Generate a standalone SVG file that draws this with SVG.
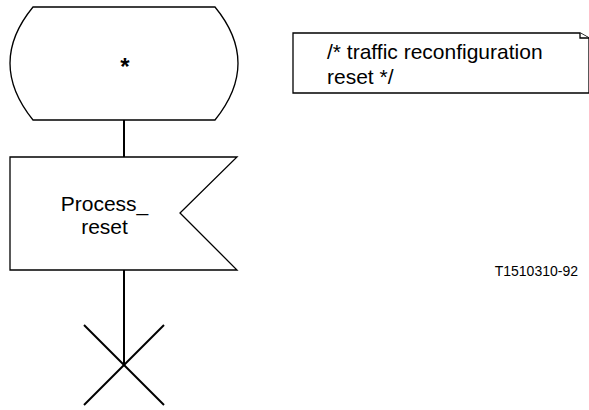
<svg xmlns="http://www.w3.org/2000/svg" width="589" height="410" viewBox="0 0 589 410">
<style>
.s{fill:#fff;stroke:#000;stroke-width:1.3}
.l{fill:none;stroke:#000;stroke-width:2}
.t{font-family:"Liberation Sans",Arial,sans-serif;fill:#000}
</style>
<rect width="589" height="410" fill="#fff"/>
<g id="connectors">
<line class="l" x1="124" y1="120" x2="124" y2="157"/>
<line class="l" x1="124" y1="270" x2="124" y2="365"/>
</g>
<g id="state">
<path class="s" d="M33,7 H215 Q261,63 215,120 H33 Q-13,63 33,7 Z"/>
<text class="t" x="125" y="75" font-size="24" font-weight="bold" text-anchor="middle">*</text>
</g>
<g id="output">
<path class="s" d="M10,157 H237 L180,213 L237,270 H10 Z"/>
<text class="t" x="104.5" y="211" font-size="21" text-anchor="middle">Process_</text>
<text class="t" x="104.5" y="234" font-size="21" text-anchor="middle">reset</text>
</g>
<g id="stop">
<line class="l" x1="84" y1="325" x2="164" y2="405"/>
<line class="l" x1="164" y1="325" x2="84" y2="405"/>
</g>
<g id="comment">
<path class="s" d="M293,33 H580 L589,38 V93 H293 Z"/>
<path class="s" d="M580,33 V38 H589" fill="none"/>
<text class="t" x="327" y="59" font-size="21">/* traffic reconfiguration</text>
<text class="t" x="327" y="84" font-size="21">reset */</text>
</g>
<text class="t" x="578" y="276" font-size="14" text-anchor="end">T1510310-92</text>
</svg>
